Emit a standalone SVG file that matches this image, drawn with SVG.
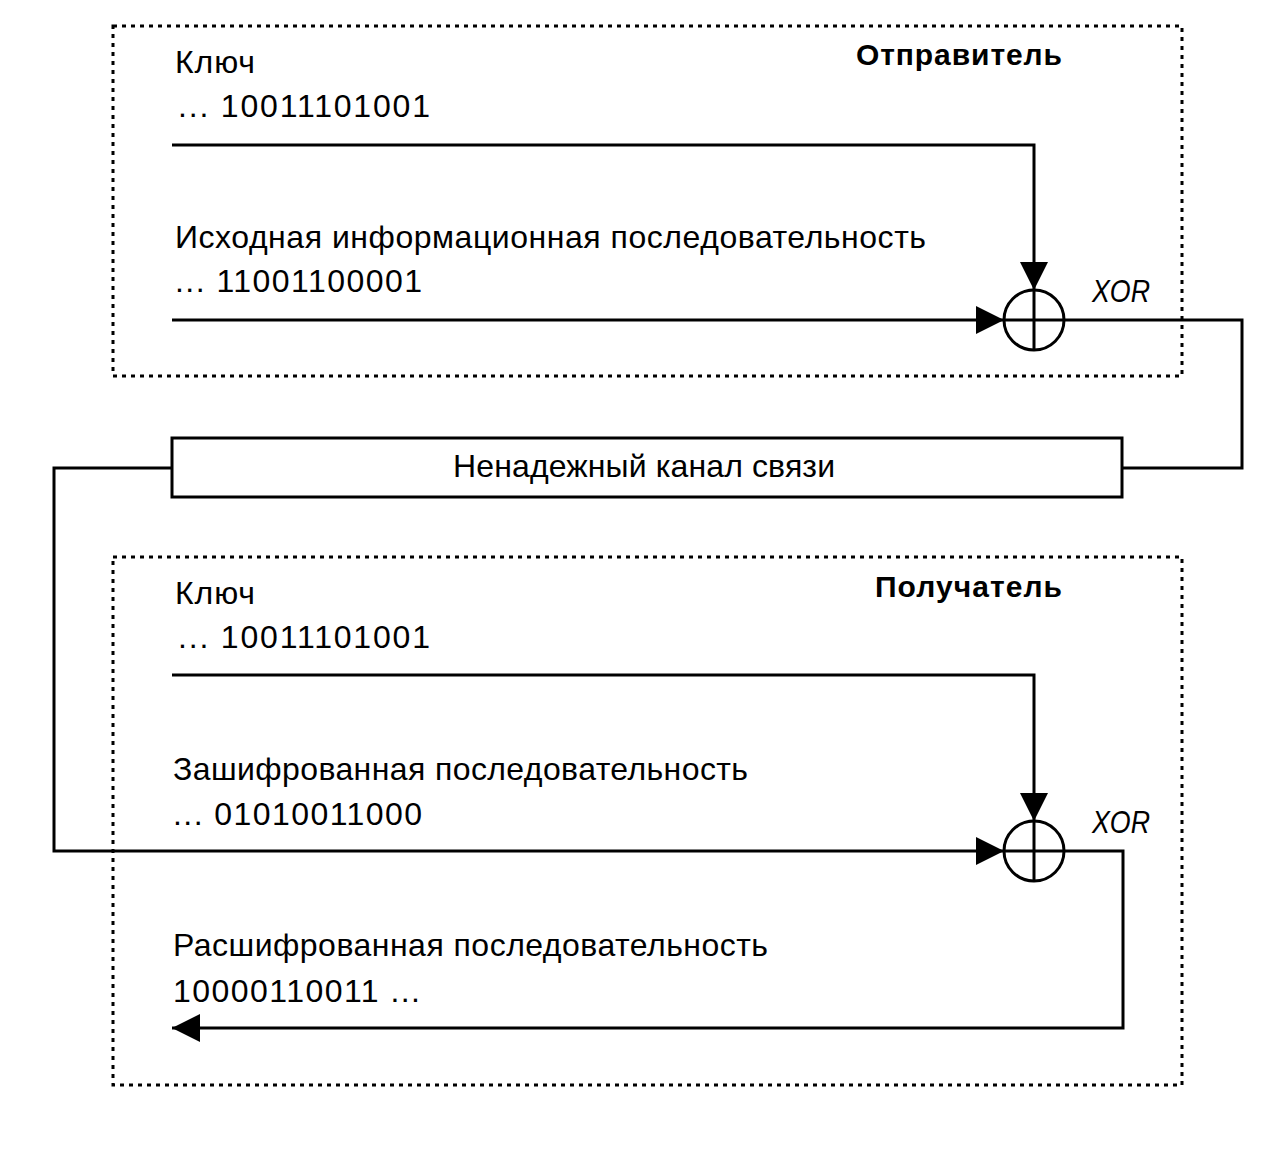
<svg xmlns="http://www.w3.org/2000/svg" width="1285" height="1167" viewBox="0 0 1285 1167">
<style>
.t{font-family:"Liberation Sans",Arial,sans-serif;font-size:32px;fill:#000}
.b{font-weight:bold;font-size:30px}
.i{font-style:italic}
.ln{fill:none;stroke:#000;stroke-width:3}
.dot{fill:none;stroke:#000;stroke-width:3;stroke-dasharray:4 5}
</style>
<defs>
<marker id="ah" viewBox="0 0 28 28" refX="28" refY="14" markerWidth="28" markerHeight="28" markerUnits="userSpaceOnUse" orient="auto">
<path d="M0,0 L28,14 L0,28 Z" fill="#000"/>
</marker>
</defs>
<rect width="1285" height="1167" fill="#fff"/>
<g id="sender">
<rect class="dot" x="113" y="26" width="1069" height="350"/>
<text class="t b" x="856" y="65" textLength="206">Отправитель</text>
<text class="t" x="175" y="73" textLength="80">Ключ</text>
<text class="t" x="178" y="117" textLength="252">... 10011101001</text>
<text class="t" x="175" y="248" textLength="751">Исходная информационная последовательность</text>
<text class="t" x="175" y="292" textLength="247">... 11001100001</text>
</g>
<g id="xor1">
<circle class="ln" cx="1034" cy="320" r="30"/>
<line class="ln" x1="1004" y1="320" x2="1064" y2="320"/>
<line class="ln" x1="1034" y1="290" x2="1034" y2="350"/>
<text class="t i" x="1092" y="302" textLength="58" lengthAdjust="spacingAndGlyphs">XOR</text>
</g>
<g id="channel">
<rect class="ln" x="172" y="438" width="950" height="59"/>
<text class="t" x="453" y="477" textLength="382">Ненадежный канал связи</text>
</g>
<g id="receiver">
<rect class="dot" x="113" y="557" width="1069" height="528"/>
<text class="t b" x="875" y="597" textLength="187">Получатель</text>
<text class="t" x="175" y="604" textLength="80">Ключ</text>
<text class="t" x="178" y="648" textLength="252">... 10011101001</text>
<text class="t" x="173" y="780" textLength="575">Зашифрованная последовательность</text>
<text class="t" x="173" y="825" textLength="249">... 01010011000</text>
<text class="t" x="173" y="956" textLength="595">Расшифрованная последовательность</text>
<text class="t" x="173" y="1002" textLength="247">10000110011 ...</text>
</g>
<g id="xor2">
<circle class="ln" cx="1034" cy="851" r="30"/>
<line class="ln" x1="1004" y1="851" x2="1064" y2="851"/>
<line class="ln" x1="1034" y1="821" x2="1034" y2="881"/>
<text class="t i" x="1092" y="833" textLength="58" lengthAdjust="spacingAndGlyphs">XOR</text>
</g>
<g id="connectors">
<polyline class="ln" points="172,145 1034,145 1034,290" marker-end="url(#ah)"/>
<line class="ln" x1="172" y1="320" x2="1004" y2="320" marker-end="url(#ah)"/>
<polyline class="ln" points="1064,320 1242,320 1242,468 1122,468"/>
<polyline class="ln" points="172,468 54,468 54,851 1004,851" marker-end="url(#ah)"/>
<polyline class="ln" points="172,675 1034,675 1034,821" marker-end="url(#ah)"/>
<polyline class="ln" points="1064,851 1123,851 1123,1028 172,1028" marker-end="url(#ah)"/>
</g>
</svg>
